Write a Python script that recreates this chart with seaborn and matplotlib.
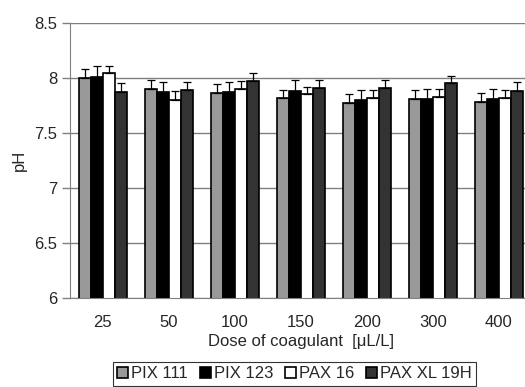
import matplotlib
matplotlib.use("Agg")
import matplotlib.pyplot as plt
import pandas as pd
import seaborn as sns

doses = ["25", "50", "100", "150", "200", "300", "400"]
coagulants = ["PIX 111", "PIX 123", "PAX 16", "PAX XL 19H"]
colors = ["#999999", "#000000", "#ffffff", "#333333"]

ph_pix111 = [8.00, 7.90, 7.86, 7.82, 7.77, 7.81, 7.78]
ph_pix123 = [8.01, 7.87, 7.87, 7.88, 7.80, 7.81, 7.81]
ph_pax16 = [8.04, 7.80, 7.90, 7.85, 7.82, 7.83, 7.82]
ph_paxxl = [7.87, 7.89, 7.97, 7.91, 7.91, 7.95, 7.88]

err_pix111 = [0.08, 0.08, 0.08, 0.07, 0.08, 0.08, 0.08]
err_pix123 = [0.10, 0.09, 0.09, 0.10, 0.09, 0.09, 0.09]
err_pax16 = [0.07, 0.08, 0.07, 0.07, 0.07, 0.07, 0.07]
err_paxxl = [0.08, 0.07, 0.07, 0.07, 0.07, 0.07, 0.08]

values = [ph_pix111, ph_pix123, ph_pax16, ph_paxxl]
errors = [err_pix111, err_pix123, err_pax16, err_paxxl]

rows = []
for name, vals, errs in zip(coagulants, values, errors):
    for d, v, e in zip(doses, vals, errs):
        rows.append({"dose": d, "coagulant": name, "pH": v, "err": e})
df = pd.DataFrame(rows)

sns.set_style("white")
plt.rcParams["font.family"] = ["Liberation Sans", "DejaVu Sans"]

fig = plt.figure(figsize=(5.25, 3.87), dpi=100)
ax = fig.add_axes([0.133, 0.230, 0.880, 0.711])

sns.barplot(data=df, x="dose", y="pH", hue="coagulant", order=doses,
            hue_order=coagulants, palette=colors, width=0.73,
            edgecolor="black", linewidth=1.2, errorbar=None, ax=ax,
            saturation=1, zorder=2)

# upper error bars only, placed on the drawn bars
for i, name in enumerate(coagulants):
    cont = ax.containers[i]
    sub = df[df["coagulant"] == name].set_index("dose").loc[doses]
    xs = [p.get_x() + p.get_width() / 2 for p in cont]
    ax.errorbar(xs, sub["pH"], yerr=[[0] * len(xs), sub["err"]], fmt="none",
                ecolor="black", elinewidth=0.9, capsize=3, capthick=0.9, zorder=3)

ax.set_ylim(6, 8.5)
ax.set_xlim(-0.5, len(doses) - 0.5)
ax.set_yticks([6, 6.5, 7, 7.5, 8, 8.5])
ax.set_yticklabels(["6", "6.5", "7", "7.5", "8", "8.5"])
ax.yaxis.grid(True, color="#808080", linewidth=1.0, zorder=0)
ax.set_axisbelow(True)

ax.set_xticks([i - 0.5 for i in range(len(doses) + 1)], minor=True)
ax.tick_params(axis="x", which="major", length=0, labelsize=12, pad=12)
ax.tick_params(axis="x", which="minor", length=5, width=1, color="#808080", direction="out")
ax.tick_params(axis="y", length=6, width=1, color="#808080", left=True, labelsize=12, pad=3)

for s in ["top", "right"]:
    ax.spines[s].set_visible(False)
ax.spines["left"].set_color("#808080")
ax.spines["bottom"].set_color("#808080")

ax.set_xlabel("Dose of coagulant  [μL/L]", fontsize=12, labelpad=3)
ax.set_ylabel("pH", fontsize=12, labelpad=5)

handles, labels = ax.get_legend_handles_labels()
ax.get_legend().remove()
leg = fig.legend(handles, labels, loc="center", bbox_to_anchor=(0.561, 0.034),
                 ncol=4, fontsize=12, frameon=True, fancybox=False,
                 handlelength=0.65, handleheight=0.65, handletextpad=0.2,
                 columnspacing=0.7, borderpad=0.25)
leg.get_frame().set_edgecolor("black")
leg.get_frame().set_linewidth(0.8)

fig.savefig("out.png", dpi=100)
